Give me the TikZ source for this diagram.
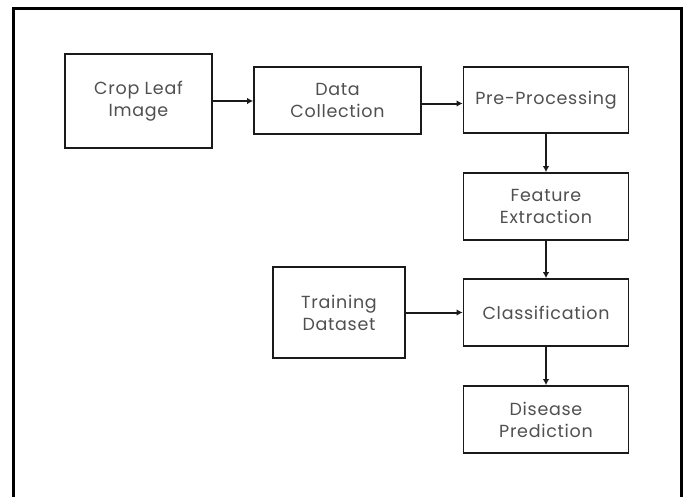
\documentclass[tikz,border=0pt]{standalone}
\usepackage{fontspec}
\setmainfont[LetterSpace=4]{Poppins}
\usetikzlibrary{arrows.meta}
\definecolor{txt}{HTML}{505050}
\definecolor{ln}{HTML}{1A1A1A}
\begin{document}
\begin{tikzpicture}[x=1pt,y=-1pt,
  box/.style={draw=ln,line width=1.8pt,rectangle,align=center,inner sep=0pt,
    text=txt,font=\fontsize{17.5}{22}\selectfont},
  arr/.style={draw=ln,line width=2pt,-{Latex[length=6pt,width=6.5pt]}}]
\useasboundingbox (0,0) rectangle (688,496);
\fill[white] (0,0) rectangle (688,496);
\draw[line width=3pt,black] (13,498) -- (13,8) -- (681,8) -- (681,498);
\node[box,minimum width=147pt,minimum height=94pt] (crop) at (138.5,101) {Crop Leaf\\Image};
\node[box,minimum width=167pt,minimum height=67pt] (data) at (337.5,100.5) {Data\\Collection};
\node[box,minimum width=165pt,minimum height=66pt] (pre) at (546,100) {Pre-Processing};
\node[box,minimum width=165pt,minimum height=67pt] (feat) at (546,206.5) {Feature\\Extraction};
\node[box,minimum width=165pt,minimum height=67pt] (cls) at (546,312.5) {Classification};
\node[box,minimum width=132pt,minimum height=91pt] (train) at (339,312.5) {Training\\Dataset};
\node[box,minimum width=165pt,minimum height=67pt] (dis) at (546,419.5) {Disease\\Prediction};
\draw[arr] (crop.east) -- (crop.east -| data.west);
\draw[arr] ([yshift=-3pt]data.east) -- ([yshift=-3pt]data.east -| pre.west);
\draw[arr] (pre.south) -- (feat.north);
\draw[arr] (feat.south) -- (cls.north);
\draw[arr] (train.east) -- (train.east -| cls.west);
\draw[arr] (cls.south) -- (dis.north);
\end{tikzpicture}
\end{document}
